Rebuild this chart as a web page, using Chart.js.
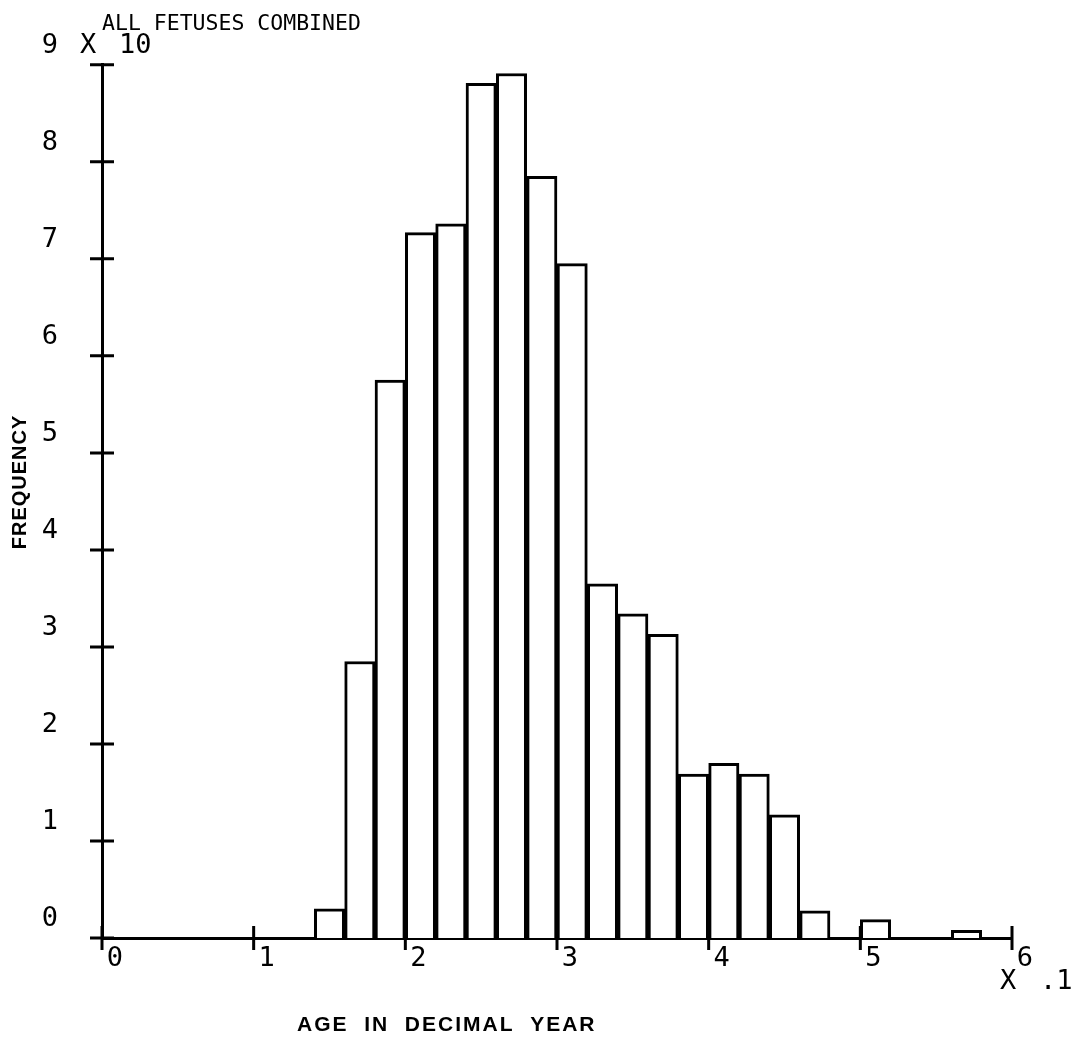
<!DOCTYPE html>
<html>
<head>
<meta charset="utf-8">
<title>All fetuses combined</title>
<script src="https://cdn.jsdelivr.net/npm/chart.js@4.4.1/dist/chart.umd.min.js"></script>
<style>
  html, body { margin: 0; padding: 0; background: #fff; }
  canvas { display: block; }
</style>
</head>
<body>
<canvas id="hist-chart" width="1078" height="1041"></canvas>
<script>
let histCanvas = document.getElementById("hist-chart");

// bin centres (age x .1, bin width .2)
const binCenters = [1.5, 1.7, 1.9, 2.1, 2.3, 2.5, 2.7, 2.9, 3.1, 3.3, 3.5,
                    3.7, 3.9, 4.1, 4.3, 4.5, 4.7, 4.9, 5.1, 5.3, 5.5, 5.7];
// frequency (x 10)
const frequency = [0.3, 2.85, 5.75, 7.27, 7.36, 8.81, 8.91, 7.85, 6.95, 3.65, 3.34,
                   3.13, 1.69, 1.8, 1.69, 1.27, 0.28, 0, 0.19, 0, 0, 0.08];
const xTicks = [0, 1, 2, 3, 4, 5, 6];
const yTicks = [0, 1, 2, 3, 4, 5, 6, 7, 8, 9];

const monoFont = "'DejaVu Sans Mono', 'Liberation Mono', monospace";
const boldFont = "'Liberation Sans', Arial, sans-serif";

// tick marks crossing both axes
const crossTicks = {
    id: "crossTicks",
    afterDatasetsDraw(chart) {
        const {ctx, scales: {x, y}} = chart;
        ctx.save();
        ctx.strokeStyle = "#000";
        ctx.lineWidth = 3;
        ctx.beginPath();
        x.ticks.forEach((t, i) => {
            let px = x.getPixelForTick(i);
            ctx.moveTo(px, y.bottom - 12);
            ctx.lineTo(px, y.bottom + 12);
        });
        y.ticks.forEach((t, i) => {
            let py = y.getPixelForTick(i);
            ctx.moveTo(x.left - 12, py);
            ctx.lineTo(x.left + 12, py);
        });
        ctx.stroke();
        ctx.restore();
    }
};

// scale factors and axis titles
const extraText = {
    id: "extraText",
    afterDraw(chart) {
        const {ctx, scales: {x, y}} = chart;
        ctx.save();
        ctx.fillStyle = "#000";
        ctx.textBaseline = "middle";
        ctx.font = "27px " + monoFont;
        ctx.textAlign = "left";
        let topY = y.getPixelForValue(9) - 19;
        ctx.fillText("X", 80, topY);
        ctx.fillText("10", 119, topY);
        let botY = y.bottom + 44;
        ctx.fillText("X", 1000, botY);
        ctx.fillText(".1", 1040, botY);

        ctx.font = "bold 21px " + boldFont;
        ctx.letterSpacing = "2px";
        ctx.textAlign = "left";
        ctx.fillText("AGE  IN  DECIMAL  YEAR", 297, 1025);

        ctx.letterSpacing = "1px";
        ctx.translate(20, 482);
        ctx.rotate(-Math.PI / 2);
        ctx.textAlign = "center";
        ctx.font = "bold 20px " + boldFont;
        ctx.fillText("FREQUENCY", 0, 0);
        ctx.restore();
    }
};

const histData = {
    datasets: [{
        data: binCenters.map((c, i) => ({x: c, y: frequency[i]})),
        backgroundColor: "#fff",
        borderColor: "#000",
        borderWidth: 3,
        borderSkipped: "start",
        barPercentage: 1,
        categoryPercentage: 1
    }]
};

const histOptions = {
    responsive: false,
    animation: false,
    devicePixelRatio: 1,
    layout: {
        padding: {left: 0, top: 12, right: 66, bottom: 0}
    },
    plugins: {
        legend: {display: false},
        tooltip: {enabled: false},
        title: {
            display: true,
            text: "ALL FETUSES COMBINED",
            align: "start",
            fullSize: false,
            color: "#000",
            font: {family: monoFont, size: 21.5, weight: "normal", lineHeight: 1.2},
            padding: {top: 0, bottom: 27}
        }
    },
    scales: {
        x: {
            type: "linear",
            min: 0,
            max: 6,
            offset: false,
            afterBuildTicks: s => { s.ticks = xTicks.map(v => ({value: v})); },
            afterFit: s => { s.height = 103; },
            ticks: {
                autoSkip: false,
                maxRotation: 0,
                labelOffset: 13,
                padding: -3,
                color: "#000",
                font: {family: monoFont, size: 27}
            },
            grid: {display: false},
            border: {display: true, color: "#000", width: 3}
        },
        y: {
            min: 0,
            max: 9,
            afterBuildTicks: s => { s.ticks = yTicks.map(v => ({value: v})); },
            afterFit: s => { s.width = 102; },
            ticks: {
                labelOffset: -19,
                padding: 36,
                color: "#000",
                font: {family: monoFont, size: 27}
            },
            grid: {display: false},
            border: {display: true, color: "#000", width: 3}
        }
    }
};

let histChart = new Chart(histCanvas, {
    type: "bar",
    data: histData,
    options: histOptions,
    plugins: [crossTicks, extraText]
});
</script>
</body>
</html>
